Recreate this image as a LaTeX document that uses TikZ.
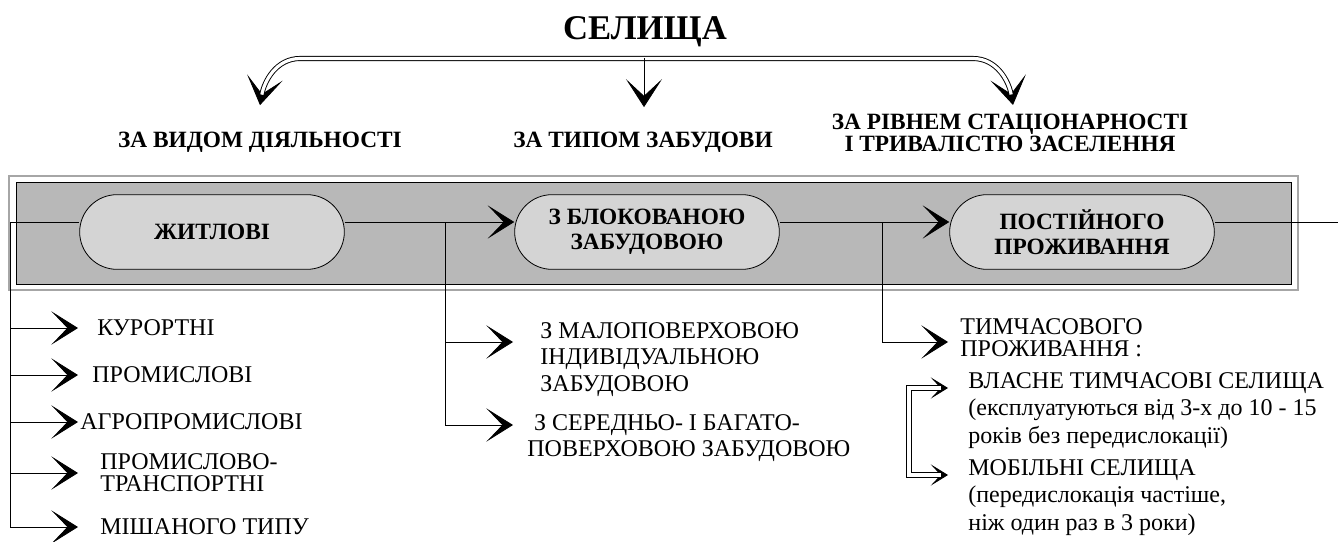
\documentclass[tikz,border=0pt]{standalone}
\usepackage{fontspec}
\setmainfont{Liberation Serif}
\usetikzlibrary{arrows.meta,shapes.misc,calc}
\definecolor{bandgray}{gray}{0.72}
\definecolor{ovalgray}{gray}{0.83}
\lineskiplimit=-20pt
\tikzset{
  tipbig/.style={-{Stealth[length=21pt,width=27pt,inset=12.5pt]}},
  tipmid/.style={-{Stealth[length=20pt,width=25pt,inset=12pt]}},
  tipsm/.style={-{Stealth[length=13pt,width=16pt,inset=7.5pt]}},
  dline/.style={double,double distance=2.4pt,line width=0.7pt},
  oval/.style={rounded rectangle,draw,fill=ovalgray,minimum width=202.5pt,
    minimum height=56pt,inner sep=2pt,align=center,
    font=\fontsize{17.5}{19}\selectfont\bfseries},
  cat/.style={inner sep=0pt,align=center,font=\fontsize{17.5}{16}\selectfont\bfseries},
  lab/.style={inner sep=0pt,anchor=west,align=left,font=\fontsize{18}{20}\selectfont},
  blk/.style={lab,anchor=north west}
}
\begin{document}
\begin{tikzpicture}[x=0.75pt,y=0.75pt,line width=0.6pt]
	\useasboundingbox (0,0) rectangle (1338,-542);
	% title and headings
	\node[anchor=base,font=\fontsize{26}{30}\selectfont\bfseries] (sel) at (645,-40) {СЕЛИЩА};
	\node[cat,anchor=base] (vid) at (260,-147) {ЗА ВИДОМ ДІЯЛЬНОСТІ};
	\node[cat,anchor=base] (typ) at (643,-147) {ЗА ТИПОМ ЗАБУДОВИ};
	\node[cat,anchor=north] (riv) at (1010,-114) {ЗА РІВНЕМ СТАЦІОНАРНОСТІ\\І ТРИВАЛІСТЮ ЗАСЕЛЕННЯ};
	\coordinate (hub) at ($(sel.base)+(-1,-18.5)$);
	\coordinate (ta) at ($(vid.north)+(0,26)$);
	\coordinate (tb) at ($(typ.north)+(1,24)$);
	\coordinate (tc) at ($(riv.north)+(3,9)$);
	\draw[tipbig] (hub) -- ($(hub -| ta)+(40,0)$) to[out=180,in=80] (ta);
	\draw[tipbig] (hub) -- ($(hub -| tc)+(-40,0)$) to[out=0,in=100] (tc);
	\draw[dline,shorten >=8pt] (hub) -- ($(hub -| ta)+(40,0)$) to[out=180,in=80] (ta);
	\draw[dline,shorten >=8pt] (hub) -- ($(hub -| tc)+(-40,0)$) to[out=0,in=100] (tc);
	\draw[tipbig] (hub) -- (hub |- tb);
	% band
	\draw[gray!70,line width=1.2pt] (9,-176) rectangle (1298,-290);
	\draw[fill=bandgray] (16,-182) rectangle (1291,-284);
	\node[oval] (zh) at (212,-232) {ЖИТЛОВІ};
	\node[oval] (bl) at (647,-232) {З БЛОКОВАНОЮ\\ЗАБУДОВОЮ};
	\node[oval] (po) at (1082,-232) {ПОСТІЙНОГО\\ПРОЖИВАННЯ};
	\coordinate (lv) at (10,-222);
	\coordinate (j1) at (445,-222);
	\coordinate (j2) at (882,-222);
	\coordinate (rv) at (1338,-222);
	\draw (lv) -- (lv -| zh.west);
	\draw (zh.east |- lv) -- (j1);
	\draw[tipmid] (j1) -- (bl.west |- j1);
	\draw (bl.east |- j1) -- (j2);
	\draw[tipmid] (j2) -- (po.west |- j2);
	\draw (po.east |- j2) -- (rv);
	% by activity
	\node[lab] (k1) at (97,-328) {КУРОРТНІ};
	\node[lab] (k2) at (92,-375) {ПРОМИСЛОВІ};
	\node[lab] (k3) at (80,-422) {АГРОПРОМИСЛОВІ};
	\node[lab,font=\fontsize{18}{16.5}\selectfont] (k4) at (100,-473) {ПРОМИСЛОВО-\\ТРАНСПОРТНІ};
	\node[lab] (k5) at (100,-527) {МІШАНОГО ТИПУ};
	\coordinate (tl) at (78,-222);
	\foreach \k in {k1,k2,k3,k4,k5}
		\draw[tipmid] (lv) |- (tl |- \k);
	% by building type
	\node[blk] (m1) at (540,-322) {З МАЛОПОВЕРХОВОЮ\\ІНДИВІДУАЛЬНОЮ\\ЗАБУДОВОЮ};
	\node[blk] (m2) at (527,-414) {\hspace*{5pt}З СЕРЕДНЬО- І БАГАТО-\\ПОВЕРХОВОЮ ЗАБУДОВОЮ};
	\coordinate (tm1) at (513,-342);
	\coordinate (tm2) at (513,-425);
	\draw[tipmid] (j1) |- (tm1);
	\draw[tipmid] (j1) |- (tm2);
	% by stay
	\node[blk,font=\fontsize{18}{16.3}\selectfont] (r1) at (960,-318) {ТИМЧАСОВОГО\\ПРОЖИВАННЯ :};
	\node[blk,font=\fontsize{18}{20.6}\selectfont] (r2) at (968,-372) {ВЛАСНЕ ТИМЧАСОВІ СЕЛИЩА\\(експлуатуються від 3-х до 10 - 15\\років без передислокації)};
	\node[blk,font=\fontsize{18}{20.6}\selectfont] (r3) at (968,-459) {МОБІЛЬНІ СЕЛИЩА\\(передислокація частіше,\\ніж один раз в 3 роки)};
	\coordinate (tr1) at (948,-342);
	\coordinate (tr2) at (948,-388);
	\coordinate (tr3) at (948,-475);
	\coordinate (bk) at (909,-388);
	\draw[tipmid] (j2) |- (tr1);
	\draw[tipsm] (bk) -- (tr2);
	\draw[tipsm] (bk |- tr3) -- (tr3);
	\draw[dline,shorten <=5pt,shorten >=5pt] (tr2) -| (bk) |- (tr3);
\end{tikzpicture}
\end{document}
